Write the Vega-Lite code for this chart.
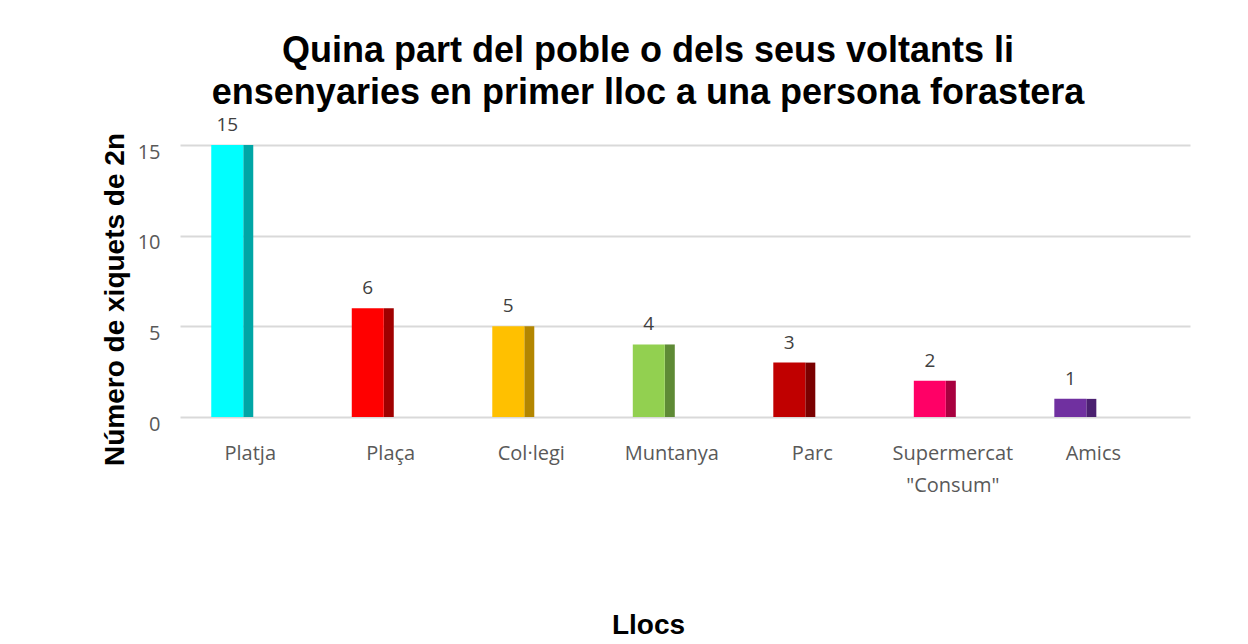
{
  "$schema": "https://vega.github.io/schema/vega-lite/v6.json",
  "autosize": {"type": "none"},
  "width": 1010,
  "height": 272,
  "padding": {"left": 180, "top": 145, "right": 58, "bottom": 227},
  "background": "white",
  "title": {
    "text": ["Quina part del poble o dels seus voltants li", "ensenyaries en primer lloc a una persona forastera"],
    "font": "Liberation Sans",
    "fontSize": 36,
    "fontWeight": "bold",
    "color": "#000000",
    "anchor": "middle",
    "dx": -37,
    "offset": 4,
    "lineHeight": 42
  },
  "data": {
    "values": [
      {"lloc": "Platja", "valor": 15},
      {"lloc": "Plaça", "valor": 6},
      {"lloc": "Col·legi", "valor": 5},
      {"lloc": "Muntanya", "valor": 4},
      {"lloc": "Parc", "valor": 3},
      {"lloc": "Supermercat|\"Consum\"", "valor": 2},
      {"lloc": "Amics", "valor": 1}
    ]
  },
  "encoding": {
    "x": {
      "field": "lloc",
      "type": "nominal",
      "sort": null,
      "scale": {"paddingInner": 0, "paddingOuter": 0.094, "align": 0},
      "axis": {
        "title": "Llocs",
        "titleFont": "Liberation Sans",
        "titleFontSize": 28,
        "titleFontWeight": "bold",
        "titleColor": "#000000",
        "titleX": 468,
        "titleY": 208,
        "titleBaseline": "middle",
        "titleAnchor": "middle",
        "labelAngle": 0,
        "labelFont": "Open Sans",
        "labelFontSize": 20,
        "labelColor": "#595959",
        "labelPadding": 26,
        "labelLineHeight": 32,
        "labelExpr": "split(datum.label, '|')",
        "domain": false,
        "ticks": false,
        "grid": false
      }
    },
    "y": {
      "field": "valor",
      "type": "quantitative",
      "scale": {"domain": [0, 15], "nice": false},
      "axis": {
        "title": "Número de xiquets de 2n",
        "titleFont": "Liberation Sans",
        "titleFontSize": 28,
        "titleFontWeight": "bold",
        "titleColor": "#000000",
        "titleX": -65,
        "titleY": 154,
        "titleAngle": -90,
        "titleBaseline": "middle",
        "titleAnchor": "middle",
        "values": [0, 5, 10, 15],
        "labelFont": "Open Sans",
        "labelFontSize": 20,
        "labelColor": "#595959",
        "labelPadding": 20,
        "labelOffset": 7,
        "domain": false,
        "ticks": false,
        "grid": true,
        "gridColor": "#d9d9d9",
        "gridWidth": 2
      }
    }
  },
  "layer": [
    {
      "mark": {"type": "bar", "width": 10, "xOffset": -2},
      "encoding": {
        "color": {
          "field": "lloc",
          "type": "nominal",
          "sort": null,
          "legend": null,
          "scale": {
            "domain": ["Platja", "Plaça", "Col·legi", "Muntanya", "Parc", "Supermercat|\"Consum\"", "Amics"],
            "range": ["#00a6a6", "#a00000", "#b38600", "#5e8a35", "#7a0000", "#a8003f", "#4b2070"]
          }
        }
      }
    },
    {
      "mark": {"type": "bar", "width": 32, "xOffset": -23},
      "encoding": {
        "fill": {
          "field": "lloc",
          "type": "nominal",
          "sort": null,
          "legend": null,
          "scale": {
            "domain": ["Platja", "Plaça", "Col·legi", "Muntanya", "Parc", "Supermercat|\"Consum\"", "Amics"],
            "range": ["#00ffff", "#ff0000", "#ffc000", "#92d050", "#c00000", "#ff0066", "#7030a0"]
          }
        }
      }
    },
    {
      "mark": {"type": "text", "xOffset": -23, "dy": -20, "baseline": "middle", "font": "Open Sans", "fontSize": 19, "color": "#404040"},
      "encoding": {"text": {"field": "valor", "type": "quantitative"}}
    }
  ],
  "config": {"view": {"stroke": null}}
}
